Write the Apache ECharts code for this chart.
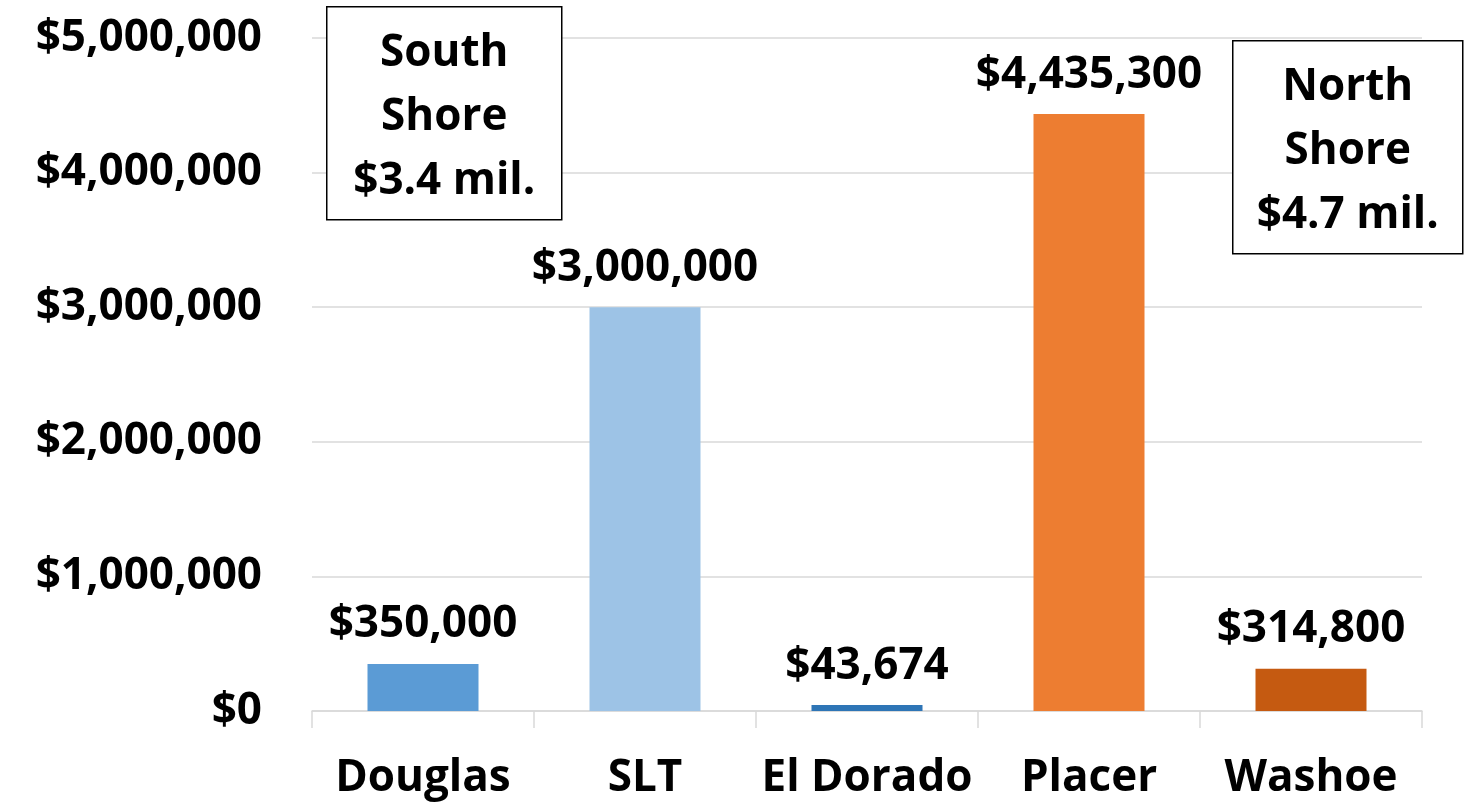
<!DOCTYPE html>
<html>
<head>
<meta charset="utf-8">
<title>Funding by county</title>
<script src="https://cdn.jsdelivr.net/npm/echarts@6/dist/echarts.min.js"></script>
<style>
    html, body {margin: 0; padding: 0; background: #fff;}
    #chart {width: 1468px; height: 805px;}
</style>
</head>
<body>
<div id="chart"></div>
<script>
// 类目
var categories = ['Douglas', 'SLT', 'El Dorado', 'Placer', 'Washoe'];
// 金额
var amounts = [350000, 3000000, 43674, 4435300, 314800];
// 柱子颜色
var barColors = ['#5b9bd5', '#9dc3e6', '#2e75b6', '#ed7d31', '#c55a11'];
// 注释框文字
var southNote = ['South', 'Shore', '$3.4 mil.'];
var northNote = ['North', 'Shore', '$4.7 mil.'];

var fontFamily = '"Open Sans", "DejaVu Sans", sans-serif';
var fontSize = 44;

function money(v) {
    return '$' + String(v).replace(/\B(?=(\d{3})+(?!\d))/g, ',');
}

// 注释框
function noteBox(lines, x, y, w, h) {
    return {
        type: 'group',
        left: x,
        top: y,
        z: 100,
        children: [
            {
                type: 'rect',
                z: 100,
                shape: {x: 0, y: 0, width: w, height: h},
                style: {fill: '#fff', stroke: '#000', lineWidth: 1.5}
            },
            {
                type: 'text',
                z: 101,
                x: w / 2,
                y: h / 2 + 4,
                style: {
                    text: lines.join('\n'),
                    fontSize: fontSize,
                    fontWeight: 'bold',
                    fontFamily: fontFamily,
                    lineHeight: 64,
                    fill: '#000',
                    align: 'center',
                    verticalAlign: 'middle'
                }
            }
        ]
    };
}

var data = amounts.map(function (v, i) {
    return {value: v, itemStyle: {color: barColors[i]}};
});

var option = {
    animation: false,
    grid: {left: 312, right: 46, top: 38, bottom: 94},
    xAxis: {
        type: 'category',
        data: categories,
        axisLine: {lineStyle: {color: '#d9d9d9', width: 1.5}},
        axisTick: {show: true, length: 17, lineStyle: {color: '#d9d9d9', width: 1.5}},
        axisLabel: {
            interval: 0,
            margin: 45,
            color: '#000',
            fontSize: fontSize,
            fontWeight: 'bold',
            fontFamily: fontFamily
        }
    },
    yAxis: {
        type: 'value',
        min: 0,
        max: 5000000,
        interval: 1000000,
        axisLine: {show: false},
        axisTick: {show: false},
        splitLine: {lineStyle: {color: '#d9d9d9', width: 1.5}},
        axisLabel: {
            margin: 50,
            color: '#000',
            fontSize: fontSize,
            fontWeight: 'bold',
            fontFamily: fontFamily,
            formatter: money
        }
    },
    series: [
        {
            type: 'bar',
            data: data,
            barWidth: '50%',
            label: {
                show: true,
                position: 'top',
                distance: 17,
                color: '#000',
                fontSize: fontSize,
                fontWeight: 'bold',
                fontFamily: fontFamily,
                formatter: function (p) {
                    return money(p.value);
                }
            }
        }
    ],
    graphic: [
        noteBox(southNote, 326, 6, 235, 213),
        noteBox(northNote, 1232, 40, 230, 213)
    ]
};

var myChart = echarts.init(document.getElementById('chart'));
myChart.setOption(option);
</script>
</body>
</html>
